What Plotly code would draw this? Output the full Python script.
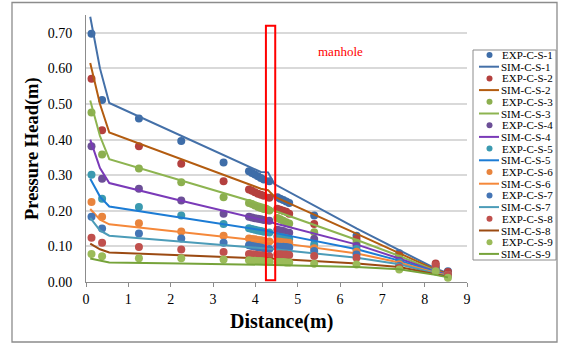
import plotly.graph_objects as go

# ---------------- data ----------------
exp_x = [0.13, 0.38, 1.25, 2.25, 3.25,
         3.85, 3.92, 3.99, 4.06, 4.13, 4.20, 4.33,
         4.52, 4.59, 4.66, 4.73, 4.80,
         5.39, 6.39, 7.40, 8.26, 8.55]

exp_1 = [0.697, 0.511, 0.459, 0.396, 0.336,
         0.311, 0.306, 0.302, 0.297, 0.292, 0.288, 0.283,
         0.238, 0.234, 0.230, 0.226, 0.222,
         0.187, 0.130, 0.081, 0.042, 0.030]
exp_2 = [0.571, 0.426, 0.381, 0.332, 0.283,
         0.260, 0.256, 0.252, 0.248, 0.245, 0.242, 0.237,
         0.206, 0.203, 0.200, 0.197, 0.192,
         0.163, 0.121, 0.075, 0.052, 0.028]
exp_3 = [0.476, 0.358, 0.319, 0.280, 0.238,
         0.222, 0.219, 0.215, 0.211, 0.208, 0.205, 0.201,
         0.180, 0.176, 0.172, 0.168, 0.164,
         0.140, 0.110, 0.065, 0.040, 0.020]
exp_4 = [0.381, 0.290, 0.262, 0.229, 0.192,
         0.183, 0.181, 0.179, 0.178, 0.176, 0.174, 0.172,
         0.147, 0.145, 0.143, 0.140, 0.138,
         0.121, 0.102, 0.060, 0.038, 0.020]
exp_5 = [0.301, 0.234, 0.211, 0.187, 0.163,
         0.151, 0.149, 0.147, 0.145, 0.143, 0.141, 0.139,
         0.128, 0.126, 0.125, 0.123, 0.121,
         0.105, 0.093, 0.055, 0.036, 0.020]
exp_6 = [0.225, 0.183, 0.165, 0.142, 0.130,
         0.122, 0.121, 0.120, 0.118, 0.117, 0.116, 0.114,
         0.114, 0.113, 0.112, 0.111, 0.110,
         0.095, 0.085, 0.050, 0.034, 0.020]
exp_7 = [0.183, 0.150, 0.136, 0.122, 0.110,
         0.103, 0.101, 0.100, 0.098, 0.097, 0.095, 0.093,
         0.100, 0.099, 0.099, 0.098, 0.097,
         0.087, 0.077, 0.045, 0.032, 0.018]
exp_8 = [0.124, 0.110, 0.098, 0.091, 0.084,
         0.079, 0.078, 0.077, 0.076, 0.075, 0.074, 0.072,
         0.078, 0.078, 0.077, 0.077, 0.076,
         0.073, 0.068, 0.040, 0.048, 0.020]
exp_9 = [0.079, 0.072, 0.067, 0.067, 0.063,
         0.061, 0.060, 0.060, 0.059, 0.059, 0.058, 0.057,
         0.056, 0.056, 0.056, 0.055, 0.055,
         0.051, 0.049, 0.035, 0.030, 0.012]

sim_x = [0.10, 0.33, 0.55, 2.25, 4.13, 4.30, 4.45, 6.40, 7.40, 8.25, 8.55]
sim_1 = [0.745, 0.600, 0.503, 0.410, 0.309, 0.308, 0.275, 0.150, 0.090, 0.038, 0.025]
sim_2 = [0.615, 0.500, 0.420, 0.345, 0.262, 0.258, 0.240, 0.135, 0.082, 0.035, 0.022]
sim_3 = [0.510, 0.410, 0.345, 0.285, 0.218, 0.213, 0.200, 0.118, 0.073, 0.032, 0.020]
sim_4 = [0.400, 0.320, 0.278, 0.228, 0.175, 0.172, 0.165, 0.105, 0.066, 0.030, 0.020]
sim_5 = [0.290, 0.240, 0.212, 0.180, 0.145, 0.143, 0.138, 0.092, 0.060, 0.028, 0.018]
sim_6 = [0.205, 0.175, 0.162, 0.140, 0.116, 0.115, 0.112, 0.080, 0.055, 0.026, 0.018]
sim_7 = [0.180, 0.145, 0.130, 0.113, 0.095, 0.094, 0.092, 0.068, 0.050, 0.024, 0.016]
sim_8 = [0.108, 0.092, 0.083, 0.075, 0.066, 0.066, 0.065, 0.052, 0.042, 0.022, 0.015]
sim_9 = [0.066, 0.060, 0.055, 0.052, 0.049, 0.049, 0.048, 0.042, 0.036, 0.020, 0.013]

exp_names = ["EXP-C-S-%d" % i for i in range(1, 10)]
sim_names = ["SIM-C-S-%d" % i for i in range(1, 10)]
exp_series = [exp_1, exp_2, exp_3, exp_4, exp_5, exp_6, exp_7, exp_8, exp_9]
sim_series = [sim_1, sim_2, sim_3, sim_4, sim_5, sim_6, sim_7, sim_8, sim_9]

exp_colors = ["#3E6DA8", "#B4403E", "#8CAF4F", "#6C4F97", "#3B9AB0",
              "#E8843D", "#4475B5", "#C0504D", "#9BBB59"]
sim_colors = ["#4470A8", "#B35C10", "#8DB450", "#7A3AB8", "#1C7CD5",
              "#F5883A", "#4C9CB8", "#9B4A12", "#76A33A"]

# ---------------- figure ----------------
W, H = 561, 347
L, R, T, B = 86, 467, 15, 282   # plot area pixel bounds

def px(x):
    return (x - L) / (R - L)

def py(y):
    return (B - y) / (B - T)

fig = go.Figure()
for i in range(9):
    fig.add_trace(go.Scatter(x=exp_x, y=exp_series[i], mode="markers", name=exp_names[i],
                             marker=dict(color=exp_colors[i], size=8), showlegend=False))
    fig.add_trace(go.Scatter(x=sim_x, y=sim_series[i], mode="lines", name=sim_names[i],
                             line=dict(color=sim_colors[i], width=2), showlegend=False))

serif = "Liberation Serif"
shapes = []
annotations = []

# outer frame
shapes.append(dict(type="rect", xref="paper", yref="paper",
                   x0=px(12), x1=px(557), y0=py(342), y1=py(2.5),
                   line=dict(color="#8C8C8C", width=1.3), layer="below"))
# manhole
shapes.append(dict(type="rect", xref="x", yref="y", x0=4.25, x1=4.47, y0=0.005, y1=0.72,
                   line=dict(color="#FF0000", width=2)))
annotations.append(dict(x=6.0, y=0.647, xref="x", yref="y", text="manhole", showarrow=False,
                        font=dict(family=serif, size=13, color="#FF0000")))

# legend box
shapes.append(dict(type="rect", xref="paper", yref="paper",
                   x0=px(473), x1=px(556), y0=py(260), y1=py(50),
                   line=dict(color="#8C8C8C", width=1), fillcolor="white"))
step = 11.7
for i in range(9):
    ye = 55 + step * (2 * i)
    ys = 55 + step * (2 * i + 1)
    shapes.append(dict(type="circle", xref="paper", yref="paper",
                       x0=px(486.5), x1=px(492.5), y0=py(ye + 3), y1=py(ye - 3),
                       fillcolor=exp_colors[i], line=dict(width=0)))
    shapes.append(dict(type="line", xref="paper", yref="paper",
                       x0=px(479), x1=px(499), y0=py(ys), y1=py(ys),
                       line=dict(color=sim_colors[i], width=2)))
    annotations.append(dict(x=px(500), y=py(ye), xref="paper", yref="paper", text=exp_names[i],
                            showarrow=False, xanchor="left", yanchor="middle",
                            font=dict(family=serif, size=11, color="#000")))
    annotations.append(dict(x=px(498.5), y=py(ys), xref="paper", yref="paper", text=sim_names[i],
                            showarrow=False, xanchor="left", yanchor="middle",
                            font=dict(family=serif, size=11, color="#000")))

# axis titles
annotations.append(dict(x=px(32), y=py(149), xref="paper", yref="paper", text="<b>Pressure Head(m)</b>",
                        showarrow=False, textangle=-90, xanchor="center", yanchor="middle",
                        font=dict(family=serif, size=18.5, color="#000")))
annotations.append(dict(x=px(281), y=py(321), xref="paper", yref="paper", text="<b>Distance(m)</b>",
                        showarrow=False, xanchor="center", yanchor="middle",
                        font=dict(family=serif, size=20, color="#000")))

fig.update_layout(
    width=W, height=H,
    margin=dict(l=L, r=W - R, t=T, b=H - B, pad=0),
    paper_bgcolor="white", plot_bgcolor="white",
    shapes=shapes, annotations=annotations, showlegend=False,
    font=dict(family=serif, size=14, color="#000"),
)
fig.update_xaxes(range=[0, 9], dtick=1, tick0=0, showgrid=False, zeroline=False,
                 showline=True, linecolor="#8C8C8C", linewidth=1,
                 ticks="outside", ticklen=4, tickcolor="#8C8C8C",
                 tickfont=dict(family=serif, size=14, color="#000"))
fig.update_yaxes(range=[0, 0.75], dtick=0.1, tick0=0, tickformat=".2f",
                 showgrid=True, gridcolor="#D9D9D9", gridwidth=1.5, zeroline=False,
                 showline=True, linecolor="#8C8C8C", linewidth=1,
                 ticks="", ticklabelstandoff=10,
                 tickfont=dict(family=serif, size=14, color="#000"))

fig.write_html("out.html", config={"displayModeBar": False},
               post_script="document.body.style.margin='0';document.body.style.overflow='hidden';")
